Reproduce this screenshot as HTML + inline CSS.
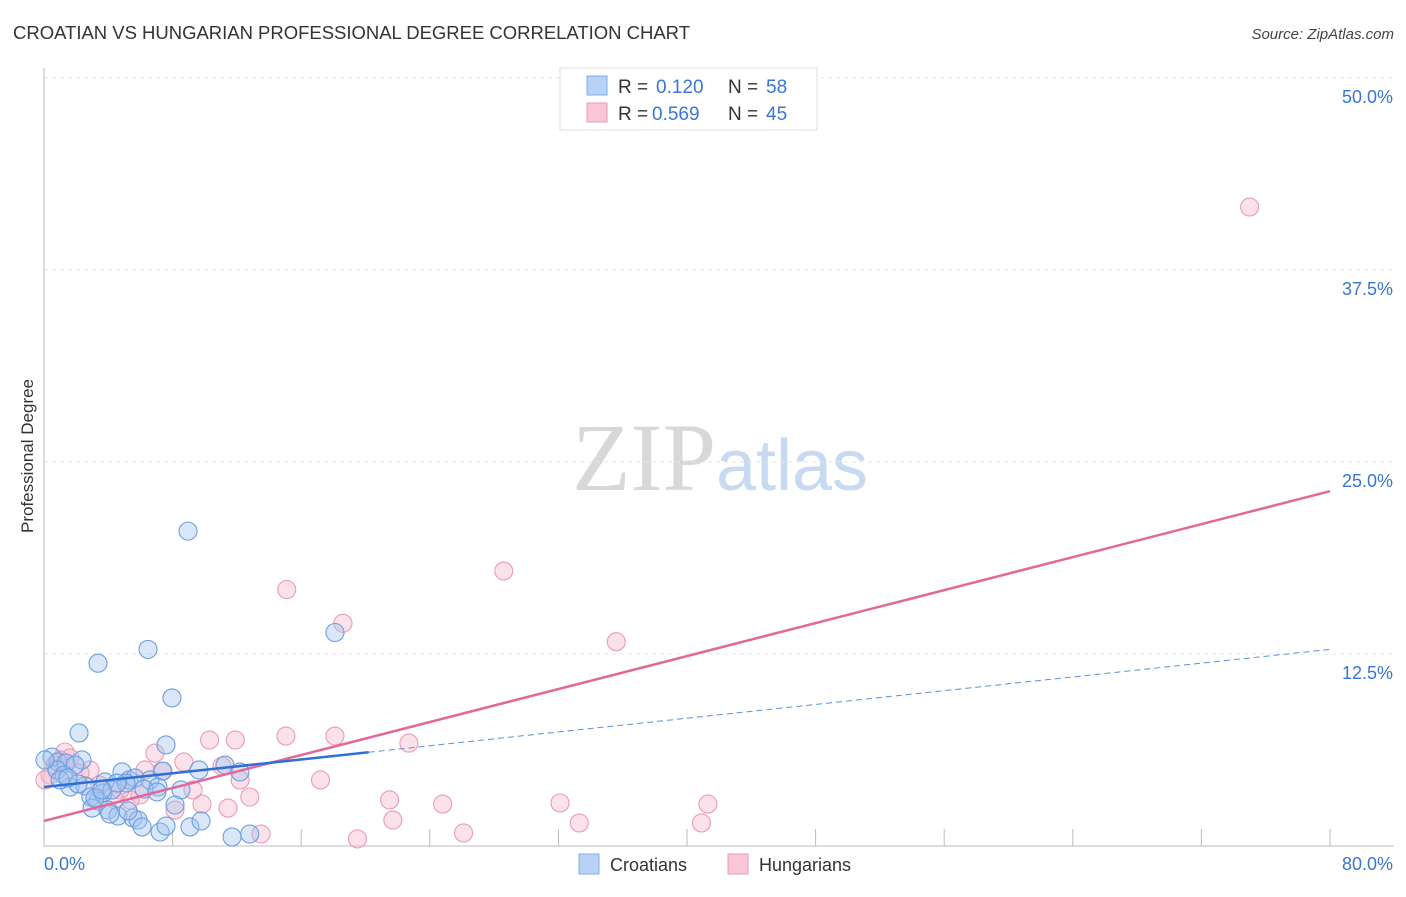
<!DOCTYPE html>
<html><head><meta charset="utf-8"><style>
body{margin:0;background:#fff;font-family:"Liberation Sans",sans-serif;}
svg text{font-family:"Liberation Sans",sans-serif;}
</style></head><body>
<svg id="chart" width="1406" height="892" xmlns="http://www.w3.org/2000/svg">
<text x="13" y="39" font-size="18.5" fill="#333" textLength="677">CROATIAN VS HUNGARIAN PROFESSIONAL DEGREE CORRELATION CHART</text>
<text x="1394" y="39" font-size="15" fill="#444" text-anchor="end" font-style="italic">Source: ZipAtlas.com</text>
<text transform="translate(33,456) rotate(-90)" font-size="17" fill="#333" text-anchor="middle">Professional Degree</text>
<text x="720" y="490" font-size="96" text-anchor="middle"><tspan fill="#d8d8d8" font-family="Liberation Serif">ZIP</tspan><tspan fill="#c8daf2" font-size="72">atlas</tspan></text>
<g id="grid"></g><g id="axes"></g><g id="marks"></g>
<g>
<rect x="560" y="68" width="257" height="62" fill="#fff" stroke="#ddd"/>
<rect x="587" y="76" width="20" height="19" fill="#b8d2f5" stroke="#80aee8"/>
<text x="618" y="93" font-size="19" fill="#333">R = </text><text x="656" y="93" font-size="19" fill="#3a75d4">0.120</text>
<text x="728" y="93" font-size="19" fill="#333">N = </text><text x="766" y="93" font-size="19" fill="#3a75d4">58</text>
<rect x="587" y="103" width="20" height="19" fill="#f9c6d6" stroke="#ee98b4"/>
<text x="618" y="120" font-size="19" fill="#333">R = </text><text x="652" y="120" font-size="19" fill="#3a75d4">0.569</text>
<text x="728" y="120" font-size="19" fill="#333">N = </text><text x="766" y="120" font-size="19" fill="#3a75d4">45</text>
</g>
<g>
<rect x="579" y="854" width="20" height="20" fill="#b8d2f5" stroke="#80aee8"/>
<text x="610" y="871" font-size="18" fill="#333">Croatians</text>
<rect x="728" y="854" width="20" height="20" fill="#f9c6d6" stroke="#ee98b4"/>
<text x="759" y="871" font-size="18" fill="#333">Hungarians</text>
</g>
</svg>
<script>
const yTicks=[12.5,25,37.5,50];
const yTickLabels=["12.5%","25.0%","37.5%","50.0%"];
const xTicks=[0,8,16,24,32,40,48,56,64,72,80];
const croX=[8.96,18.1,6.47,3.36,7.96,2.18,7.59,0.5,0.87,1.37,2.36,1.93,0.81,1.24,1.62,2.55,2.12,3.79,4.85,5.29,5.66,6.59,7.09,7.4,9.64,11.26,12.19,8.52,8.15,2.92,3.36,2.99,3.67,4.23,3.98,4.6,5.54,5.85,6.1,7.22,7.59,9.08,9.77,11.7,12.8,4.1,5.1,6.22,1.0,1.49,3.17,4.54,7.03,5.23,3.61,0.06];
const croY=[20.5,13.9,12.8,11.9,9.64,7.36,6.58,5.79,5.47,5.4,5.6,5.27,4.95,4.62,3.84,3.91,4.04,4.17,4.82,4.3,4.43,4.3,3.84,4.88,4.95,5.27,4.82,3.65,2.67,3.19,2.93,2.47,3.45,3.65,2.34,1.95,1.82,1.69,1.24,0.91,1.3,1.24,1.63,0.59,0.78,2.08,4.1,3.71,4.3,4.43,3.13,4.1,3.52,2.28,3.65,5.6];
const hunX=[75.0,28.6,15.1,18.6,35.6,15.05,18.1,22.7,10.3,11.9,6.9,8.7,11.07,7.34,17.2,12.2,12.8,21.5,24.8,32.1,41.3,9.83,11.45,21.7,33.3,40.9,26.1,19.5,13.5,1.3,2.86,2.24,0.37,0.06,3.48,5.97,5.35,4.73,6.28,9.27,8.15,4.42,1.0,1.62,0.68];
const hunY=[41.6,17.9,16.7,14.5,13.3,7.16,7.16,6.7,6.9,6.9,6.05,5.47,5.2,4.88,4.3,4.3,3.19,3.0,2.73,2.8,2.73,2.73,2.47,1.69,1.5,1.5,0.85,0.46,0.78,6.12,4.95,4.75,4.62,4.3,3.97,3.32,3.0,3.65,4.95,3.65,2.34,3.0,5.6,5.73,5.27];
const croTrend=[3.84,12.8];
const hunTrend=[1.63,23.1];
const NS="http://www.w3.org/2000/svg";
const sx=v=>44+v*(1286/80);
const sy=v=>846-v*(768/50);
function mk(tag,attrs,parent){const e=document.createElementNS(NS,tag);for(const k in attrs)e.setAttribute(k,attrs[k]);parent.appendChild(e);return e;}
const grid=document.getElementById('grid'),axes=document.getElementById('axes'),marks=document.getElementById('marks');
yTicks.forEach((t,i)=>{
  const l=mk('line',{x1:44,x2:1394,y1:sy(t),y2:sy(t),stroke:'#e6e6e6','stroke-dasharray':'4,4'},grid);
  
  
  const tx=mk('text',{x:1393,y:sy(t)+25,'font-size':18,fill:'#3a75d4','text-anchor':'end'},axes);
  tx.textContent=yTickLabels[i];
  
  
});
const ax=mk('path',{d:'M44 68V846H1394',fill:'none',stroke:'#bbb'},axes);


xTicks.forEach(t=>{
  const l=mk('line',{x1:sx(t),x2:sx(t),y1:829,y2:846,stroke:'#bbb'},axes);
  
  
});
const x0=mk('text',{x:44,y:870,'font-size':18,fill:'#3a75d4'},axes);x0.textContent='0.0%';


const x1=mk('text',{x:1393,y:870,'font-size':18,fill:'#3a75d4','text-anchor':'end'},axes);x1.textContent='80.0%';


function pts(X,Y,fill,stroke,name){X.forEach((x,i)=>{
  const c=mk('circle',{cx:sx(x),cy:sy(Y[i]),r:9,fill:fill,stroke:stroke,'stroke-width':1.1},marks);
  
  
});}
pts(hunX,hunY,'rgba(246,182,202,0.4)','#eb9ab6','hungarian-point');
pts(croX,croY,'rgba(160,196,240,0.4)','#6a9ee0','croatian-point');
const cy=x=>croTrend[0]+(croTrend[1]-croTrend[0])*x/80;
const hl=mk('line',{x1:sx(0),y1:sy(hunTrend[0]),x2:sx(80),y2:sy(hunTrend[1]),stroke:'#e4679a','stroke-width':2.5},marks);


const cl=mk('line',{x1:sx(0),y1:sy(cy(0)),x2:sx(20.2),y2:sy(cy(20.2)),stroke:'#2f6fd6','stroke-width':2.5},marks);


const cd=mk('line',{x1:sx(20.2),y1:sy(cy(20.2)),x2:sx(80),y2:sy(cy(80)),stroke:'#5b8fd8','stroke-width':1,'stroke-dasharray':'6,4'},marks);


</script>
</body></html>
